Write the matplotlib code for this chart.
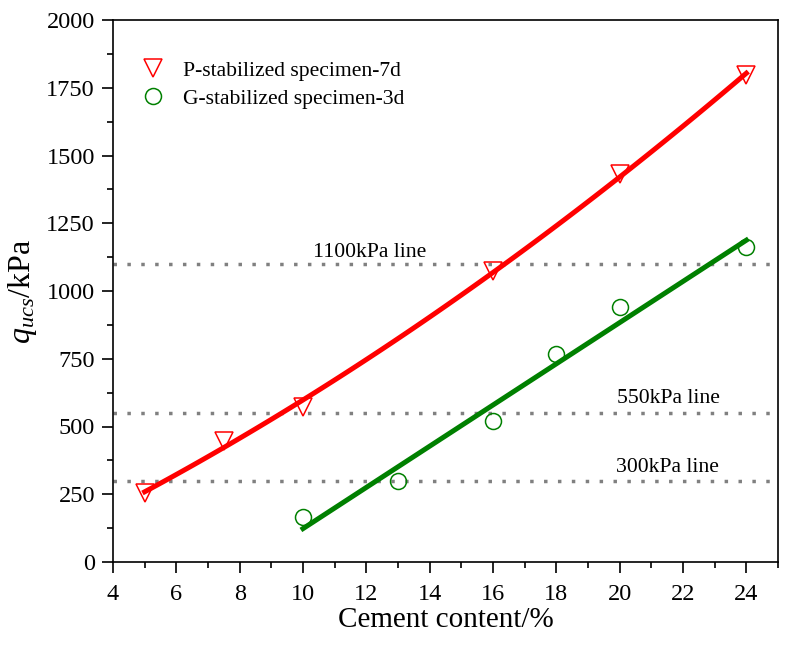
import numpy as np
import matplotlib
matplotlib.use('Agg')
import matplotlib.pyplot as plt
from matplotlib.ticker import MultipleLocator

plt.rcParams['font.family'] = 'Liberation Serif'
plt.rcParams['mathtext.fontset'] = 'custom'
plt.rcParams['mathtext.rm'] = 'Liberation Serif'
plt.rcParams['mathtext.it'] = 'Liberation Serif:italic'

# Datos
cement_p = [5, 7.5, 10, 16, 20, 24]
q_p = [255, 445, 572, 1072, 1430, 1798]
cement_g = [10, 13, 16, 18, 20, 24]
q_g = [166, 299, 520, 768, 941, 1162]
ref_lines = [1100, 550, 300]
ref_labels = ['1100kPa line', '550kPa line', '300kPa line']
ref_label_x = [12.1, 21.55, 21.5]
ref_label_y = [1125, 587, 333]

fig = plt.figure(figsize=(7.93, 6.45), dpi=100)
ax = fig.add_axes([113 / 793, 83 / 645, 665 / 793, 542 / 645])

# Lineas de referencia
for val, lab, lx, ly in zip(ref_lines, ref_labels, ref_label_x, ref_label_y):
    ax.axhline(val, color='#808080', linestyle=(0, (1, 3)), linewidth=2.5, zorder=1)
    ax.text(lx, ly, lab, ha='center', va='baseline', fontsize=15.6)

# Ajustes
cp = np.polyfit(cement_p, q_p, 2)
xp = np.linspace(min(cement_p), max(cement_p), 100)
ax.plot(xp, np.polyval(cp, xp), color='red', linewidth=3.6, zorder=2)

cg = np.polyfit(cement_g, q_g, 1)
xg = np.linspace(min(cement_g), max(cement_g), 100)
ax.plot(xg, np.polyval(cg, xg), color='#008000', linewidth=3.6, zorder=2)

# Puntos
ax.plot(cement_p, q_p, linestyle='none', marker='v', markersize=13,
        markerfacecolor='none', markeredgecolor='red', markeredgewidth=1.1,
        label='P-stabilized specimen-7d', zorder=3)
ax.plot(cement_g, q_g, linestyle='none', marker='o', markersize=11.5,
        markerfacecolor='none', markeredgecolor='#008000', markeredgewidth=1.1,
        label='G-stabilized specimen-3d', zorder=3)

ax.set_xlim(4, 25)
ax.set_ylim(0, 2000)
ax.xaxis.set_major_locator(MultipleLocator(2))
ax.xaxis.set_minor_locator(MultipleLocator(1))
ax.yaxis.set_major_locator(MultipleLocator(250))
ax.yaxis.set_minor_locator(MultipleLocator(125))
ax.tick_params(which='major', direction='out', length=8, width=1.2, labelsize=17.5)
ax.tick_params(which='minor', direction='out', length=4.5, width=1.2)
ax.tick_params(axis='x', which='major', pad=8)
ax.tick_params(axis='y', which='major', pad=5)
for s in ax.spines.values():
    s.set_linewidth(1.2)

ax.set_xlabel('Cement content/%', fontsize=21, labelpad=1)
ax.set_ylabel('$q_{ucs}$/kPa', fontsize=23, labelpad=5)

ax.legend(loc='upper left', frameon=False, fontsize=15.6, handlelength=1.0,
          handletextpad=0.9, borderpad=0, borderaxespad=0, labelspacing=0.35,
          bbox_to_anchor=(0.0436, 0.925))

fig.savefig('out.png', dpi=100)
